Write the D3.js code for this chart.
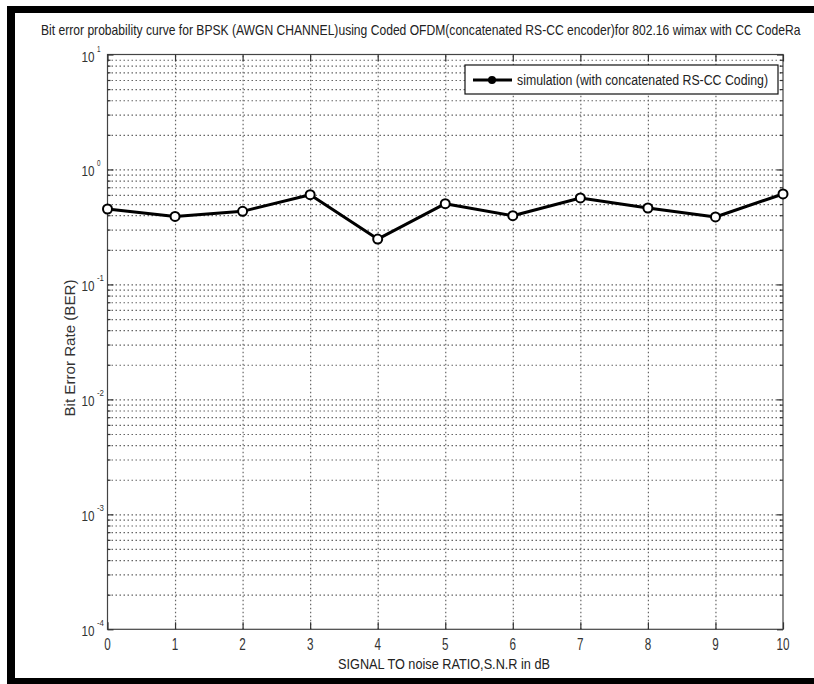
<!DOCTYPE html>
<html lang="en">
<head>
<meta charset="UTF-8">
<title>BER curve</title>
<script src="https://cdnjs.cloudflare.com/ajax/libs/d3/7.8.5/d3.min.js"></script>
<style>
  body{margin:0;background:#fff;}
  svg{display:block;font-family:"Liberation Sans",Arial,sans-serif;}
</style>
</head>
<body>
<div id="chart"></div>
<script>
// data
var snrDb = [0,1,2,3,4,5,6,7,8,9,10];
var ber   = [0.453,0.390,0.432,0.603,0.248,0.504,0.396,0.565,0.462,0.386,0.612];
var xTickLabels = ["0","1","2","3","4","5","6","7","8","9","10"];
var yExponents  = [-4,-3,-2,-1,0,1];
var titleText   = "Bit error probability curve for BPSK (AWGN CHANNEL)using Coded OFDM(concatenated RS-CC encoder)for 802.16 wimax with CC CodeRa";
var xLabel      = "SIGNAL TO noise RATIO,S.N.R in dB";
var yLabel      = "Bit Error Rate (BER)";
var legendLabel = "simulation (with concatenated RS-CC Coding)";

var width = 814, height = 684;
var plot = {left:107.5, right:783, top:54.5, bottom:629.3};
var plotW = plot.right - plot.left, plotH = plot.bottom - plot.top;

var svg = d3.select("#chart").append("svg").attr("width",width).attr("height",height);

// black frame round the picture
svg.append("rect").attr("x",7).attr("y",6).attr("width",807).attr("height",7).attr("fill","#000");
svg.append("rect").attr("x",7).attr("y",6).attr("width",8).attr("height",678).attr("fill","#000");
svg.append("rect").attr("x",7).attr("y",678).attr("width",807).attr("height",6).attr("fill","#000");

// scales
var xScale = d3.scaleLinear().domain([0,10]).range([plot.left,plot.right]);
var yScale = d3.scaleLog().domain([1e-4,10]).range([plot.bottom,plot.top]);
var yMajor = yExponents.map(function(e){ return Math.pow(10,e); });
var yAll = yScale.ticks();
var yMinor = yAll.filter(function(v){ return yMajor.indexOf(v) < 0; });

// grid (dotted)
var gy = svg.append("g").attr("transform","translate("+plot.left+",0)")
    .call(d3.axisLeft(yScale).tickValues(yAll.slice(1,-1)).tickSize(-plotW).tickFormat(""));
var gx = svg.append("g").attr("transform","translate(0,"+plot.bottom+")")
    .call(d3.axisBottom(xScale).tickValues(snrDb.slice(1,-1)).tickSize(-plotH).tickFormat(""));
[gx,gy].forEach(function(g){
    g.select(".domain").remove();
    g.selectAll("line").attr("stroke","#666").attr("stroke-width",1.2).attr("stroke-dasharray","1.5,2.5");
});

// box
svg.append("rect").attr("x",plot.left).attr("y",plot.top).attr("width",plotW).attr("height",plotH)
    .attr("fill","none").attr("stroke","#444").attr("stroke-width",1.2);

// inward ticks
function ticks(axis, tr, vals, len){
    var g = svg.append("g").attr("transform",tr)
        .call(axis.tickValues(vals).tickSizeInner(-len).tickSizeOuter(0).tickFormat(""));
    g.select(".domain").remove();
    g.selectAll("line").attr("stroke","#333").attr("stroke-width",1.2);
}
ticks(d3.axisLeft(yScale),  "translate("+plot.left+",0)",  yMajor, 6);
ticks(d3.axisLeft(yScale),  "translate("+plot.left+",0)",  yMinor, 3);
ticks(d3.axisRight(yScale), "translate("+plot.right+",0)", yMajor, 6);
ticks(d3.axisRight(yScale), "translate("+plot.right+",0)", yMinor, 3);
ticks(d3.axisBottom(xScale),"translate(0,"+plot.bottom+")", snrDb, 7);
ticks(d3.axisTop(xScale),   "translate(0,"+plot.top+")",    snrDb, 7);

// x tick labels
svg.append("g").selectAll("text").data(snrDb).enter().append("text")
    .attr("x",function(d){ return xScale(d); })
    .attr("y",650)
    .attr("text-anchor","middle")
    .attr("font-size",16)
    .attr("fill","#333")
    .attr("textLength",function(d,i){ return xTickLabels[i].length*6.5; })
    .attr("lengthAdjust","spacingAndGlyphs")
    .text(function(d,i){ return xTickLabels[i]; });

// y tick labels 10^e
var yl = svg.append("g").selectAll("g").data(yExponents).enter().append("g");
yl.append("text")
    .attr("x",94.5).attr("y",function(e){ return yScale(Math.pow(10,e))+7; })
    .attr("text-anchor","end").attr("font-size",15).attr("fill","#333")
    .attr("textLength",13).attr("lengthAdjust","spacingAndGlyphs")
    .text("10");
yl.append("text")
    .attr("x",97).attr("y",function(e){ return yScale(Math.pow(10,e))-3; })
    .attr("font-size",9).attr("fill","#333")
    .attr("textLength",function(e){ return String(e).length*3.5; })
    .attr("lengthAdjust","spacingAndGlyphs")
    .text(function(e){ return String(e); });

// title: squeezed horizontally to fit like the original
var title = svg.append("text").attr("font-size",14).attr("fill","#222").text(titleText);
var tw = title.node().getComputedTextLength();
title.attr("transform","translate(41,35) scale("+(760/tw)+",1)");

svg.append("text").attr("x",338).attr("y",669).attr("font-size",14).attr("fill","#222")
    .attr("textLength",212).attr("lengthAdjust","spacingAndGlyphs").text(xLabel);
svg.append("text").attr("transform","translate(75,348) rotate(-90)")
    .attr("text-anchor","middle").attr("font-size",14).attr("fill","#333")
    .attr("textLength",137).attr("lengthAdjust","spacingAndGlyphs").text(yLabel);

// data line
var line = d3.line().x(function(d,i){ return xScale(snrDb[i]); }).y(function(d){ return yScale(d); });
svg.append("path").datum(ber).attr("d",line)
    .attr("fill","none").attr("stroke","#000").attr("stroke-width",3).attr("stroke-linejoin","round");
svg.append("g").selectAll("circle").data(ber).enter().append("circle")
    .attr("cx",function(d,i){ return xScale(snrDb[i]); })
    .attr("cy",function(d){ return yScale(d); })
    .attr("r",4.5).attr("fill","#fff").attr("stroke","#000").attr("stroke-width",2);

// legend
var lg = svg.append("g");
lg.append("rect").attr("x",465).attr("y",65).attr("width",313).attr("height",29)
    .attr("fill","#fff").attr("stroke","#111").attr("stroke-width",1.2);
lg.append("line").attr("x1",473).attr("x2",512).attr("y1",80).attr("y2",80)
    .attr("stroke","#000").attr("stroke-width",3);
lg.append("circle").attr("cx",492).attr("cy",80).attr("r",4).attr("fill","#000");
lg.append("text").attr("x",517).attr("y",85).attr("font-size",14).attr("fill","#222")
    .attr("textLength",251).attr("lengthAdjust","spacingAndGlyphs").text(legendLabel);
</script>
</body>
</html>
